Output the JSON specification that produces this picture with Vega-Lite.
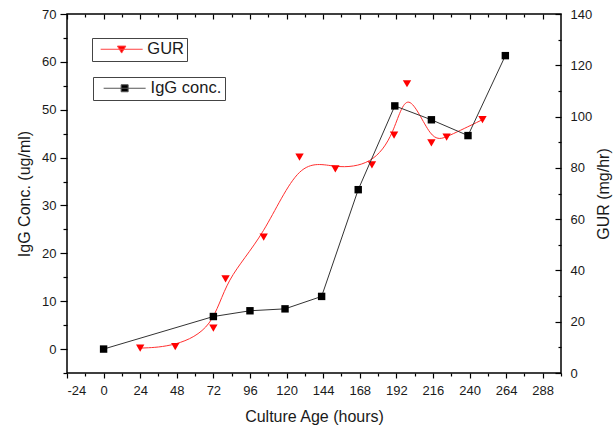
{
  "$schema": "https://vega.github.io/schema/vega-lite/v6.json",
  "width": 494,
  "height": 359,
  "autosize": {"type": "none"},
  "padding": {"left": 67, "top": 14, "right": 54, "bottom": 59},
  "background": "white",
  "config": {
    "view": {"stroke": "#000", "strokeWidth": 1.5},
    "axis": {
      "grid": false,
      "domain": false,
      "labelFont": "Liberation Sans",
      "titleFont": "Liberation Sans",
      "labelFontSize": 13,
      "titleFontSize": 16,
      "titleFontWeight": "normal",
      "labelColor": "#1a1a1a",
      "titleColor": "#1a1a1a",
      "tickColor": "#000",
      "tickWidth": 1.2
    }
  },
  "datasets": {
    "igg": [
      {"t": 0, "igg": 0},
      {"t": 72, "igg": 6.8},
      {"t": 96, "igg": 8.0},
      {"t": 119, "igg": 8.4},
      {"t": 143, "igg": 11.0},
      {"t": 167, "igg": 33.3},
      {"t": 191, "igg": 50.8},
      {"t": 215, "igg": 47.9},
      {"t": 239, "igg": 44.6},
      {"t": 263.5, "igg": 61.3}
    ],
    "gur": [
      {"t": 24, "gur": 9.7},
      {"t": 47, "gur": 10.3},
      {"t": 72, "gur": 17.5},
      {"t": 80, "gur": 36.7},
      {"t": 105, "gur": 53.0},
      {"t": 128.5, "gur": 84.2},
      {"t": 152, "gur": 79.6},
      {"t": 176, "gur": 81.2},
      {"t": 190.5, "gur": 92.8},
      {"t": 199, "gur": 112.8},
      {"t": 215, "gur": 89.7},
      {"t": 225, "gur": 92.0},
      {"t": 248.5, "gur": 98.8}
    ]
  },
  "layer": [
    {
      "data": {"name": "gur"},
      "mark": {"type": "line", "interpolate": "basis", "color": "#ff3030", "strokeWidth": 1},
      "encoding": {
        "x": {
          "field": "t", "type": "quantitative",
          "scale": {"domain": [-24, 300], "nice": false, "zero": false},
          "axis": {"orient": "top", "values": [-24, 0, 24, 48, 72, 96, 120, 144, 168, 192, 216, 240, 264, 288], "tickSize": -5, "labels": false, "title": null}
        },
        "y": {
          "field": "gur", "type": "quantitative",
          "scale": {"domain": [0, 140], "nice": false, "zero": false},
          "axis": {"orient": "right", "values": [0, 20, 40, 60, 80, 100, 120, 140], "tickSize": -6, "labelPadding": 15, "title": "GUR (mg/hr)", "titleAngle": 270, "titleBaseline": "top", "titlePadding": 4}
        }
      }
    },
    {
      "data": {"name": "gur"},
      "mark": {"type": "point", "shape": "triangle-down", "filled": true, "size": 70, "opacity": 1},
      "encoding": {
        "x": {
          "field": "t", "type": "quantitative",
          "scale": {"domain": [-24, 300], "nice": false, "zero": false},
          "axis": {"orient": "top", "values": [-12, 12, 36, 60, 84, 108, 132, 156, 180, 204, 228, 252, 276], "tickSize": -3, "labels": false, "title": null}
        },
        "y": {
          "field": "gur", "type": "quantitative",
          "scale": {"domain": [0, 140], "nice": false, "zero": false},
          "axis": {"orient": "right", "values": [10, 30, 50, 70, 90, 110, 130], "tickSize": -3, "labels": false, "title": null}
        },
        "color": {
          "datum": "GUR", "type": "nominal",
          "scale": {"domain": ["GUR"], "range": ["#ff0000"]},
          "legend": {
            "title": null, "orient": "none", "legendX": 25, "legendY": 24,
            "padding": 3, "strokeColor": "#444",
            "symbolType": "M-3,0H3M-0.6,-0.45L0.6,-0.45L0,0.55Z",
            "symbolSize": 196, "symbolOffset": 18.4, "labelOffset": 17.4,
            "symbolFillColor": "#ff0000", "symbolStrokeColor": "#ff4040", "symbolStrokeWidth": 1, "symbolOpacity": 1,
            "labelFont": "Liberation Sans", "labelFontSize": 16.5, "labelColor": "#1a1a1a"
          }
        }
      }
    },
    {
      "data": {"name": "igg"},
      "mark": {"type": "line", "color": "#333", "strokeWidth": 1},
      "encoding": {
        "x": {
          "field": "t", "type": "quantitative",
          "scale": {"domain": [-24, 300], "nice": false, "zero": false},
          "axis": {"orient": "bottom", "values": [-24, 0, 24, 48, 72, 96, 120, 144, 168, 192, 216, 240, 264, 288], "labelExpr": "replace(datum.label, '−', '-')", "tickSize": 5, "labelPadding": 6, "title": "Culture Age (hours)", "titlePadding": 11}
        },
        "y": {
          "field": "igg", "type": "quantitative",
          "scale": {"domain": [-5, 70], "nice": false, "zero": false},
          "axis": {"orient": "left", "values": [0, 10, 20, 30, 40, 50, 60, 70], "tickSize": 7, "labelPadding": 4, "title": "IgG Conc. (ug/ml)", "titlePadding": 9}
        }
      }
    },
    {
      "data": {"name": "igg"},
      "mark": {"type": "point", "shape": "square", "filled": true, "size": 55, "opacity": 1},
      "encoding": {
        "x": {
          "field": "t", "type": "quantitative",
          "scale": {"domain": [-24, 300], "nice": false, "zero": false},
          "axis": {"orient": "bottom", "values": [-12, 12, 36, 60, 84, 108, 132, 156, 180, 204, 228, 252, 276, 300], "tickSize": 3, "labels": false, "title": null}
        },
        "y": {
          "field": "igg", "type": "quantitative",
          "scale": {"domain": [-5, 70], "nice": false, "zero": false},
          "axis": {"orient": "left", "values": [-5, 5, 15, 25, 35, 45, 55, 65], "tickSize": 4, "labels": false, "title": null}
        },
        "color": {
          "datum": "IgG conc.", "type": "nominal",
          "scale": {"domain": ["IgG conc."], "range": ["#000000"]},
          "legend": {
            "title": null, "orient": "none", "legendX": 26, "legendY": 63,
            "padding": 3, "strokeColor": "#444",
            "symbolType": "M-3,0H3M-0.5,-0.5H0.5V0.5H-0.5Z",
            "symbolSize": 196, "symbolOffset": 20.4, "labelOffset": 17.7,
            "symbolFillColor": "#000", "symbolStrokeColor": "#555", "symbolStrokeWidth": 1, "symbolOpacity": 1,
            "labelFont": "Liberation Sans", "labelFontSize": 16.5, "labelColor": "#1a1a1a"
          }
        }
      }
    }
  ],
  "resolve": {
    "scale": {"y": "independent", "color": "independent"},
    "axis": {"x": "independent", "y": "independent"},
    "legend": {"color": "independent"}
  }
}
